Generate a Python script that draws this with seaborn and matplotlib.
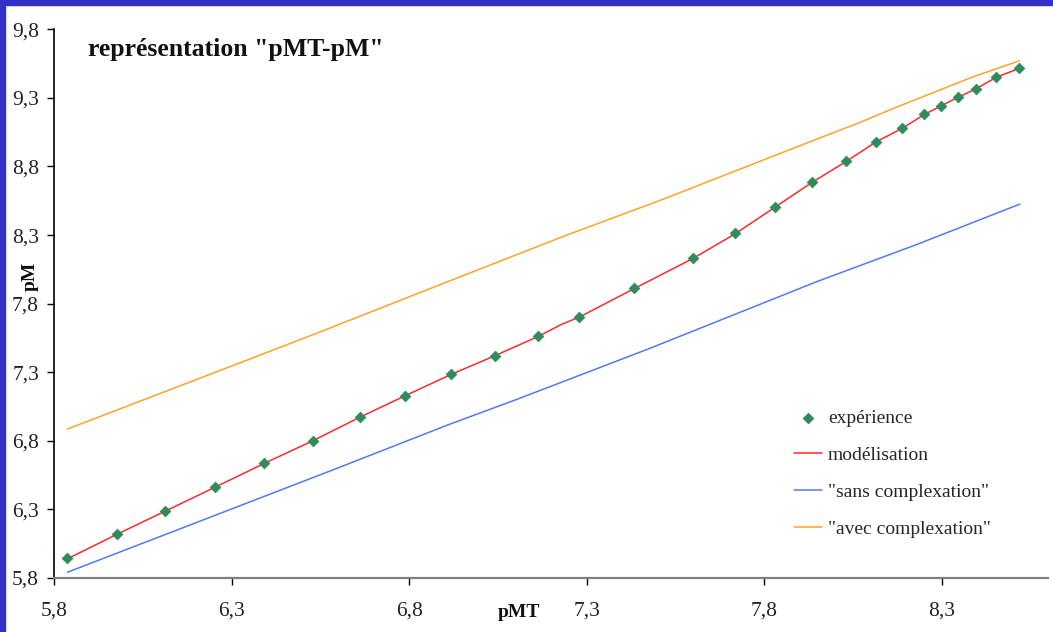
import matplotlib
matplotlib.use("Agg")
import matplotlib.pyplot as plt
import seaborn as sns
import pandas as pd
from matplotlib.patches import Rectangle
from matplotlib.ticker import FixedLocator, FuncFormatter

# ---- data ----
exp_x = [5.837, 5.976, 6.113, 6.253, 6.392, 6.528, 6.661, 6.788, 6.918, 7.043,
         7.164, 7.278, 7.434, 7.600, 7.719, 7.830, 7.935, 8.032, 8.116, 8.189,
         8.251, 8.299, 8.346, 8.396, 8.454, 8.519]
exp_y = [5.944, 6.121, 6.288, 6.461, 6.636, 6.799, 6.973, 7.127, 7.285, 7.420,
         7.564, 7.700, 7.912, 8.130, 8.312, 8.504, 8.686, 8.837, 8.982, 9.078,
         9.180, 9.242, 9.306, 9.364, 9.452, 9.515]

mod_x = [5.837, 5.976, 6.113, 6.253, 6.392, 6.528, 6.661, 6.788, 6.918, 7.043,
         7.164, 7.230, 7.278, 7.434, 7.600, 7.719, 7.830, 7.935, 8.032, 8.116,
         8.189, 8.251, 8.299, 8.346, 8.396, 8.454, 8.519]
mod_y = [5.940, 6.118, 6.288, 6.462, 6.636, 6.800, 6.972, 7.128, 7.284, 7.422,
         7.562, 7.650, 7.700, 7.910, 8.130, 8.310, 8.502, 8.684, 8.838, 8.980,
         9.078, 9.178, 9.242, 9.304, 9.365, 9.450, 9.515]

sans_x = [5.837, 6.577, 6.915, 7.098, 7.478, 7.948, 8.230, 8.521]
sans_y = [5.842, 6.580, 6.922, 7.097, 7.474, 7.960, 8.231, 8.526]

avec_x = [5.837, 6.258, 6.539, 6.915, 7.244, 7.509, 7.929, 8.070, 8.164, 8.389, 8.519]
avec_y = [6.886, 7.304, 7.584, 7.967, 8.300, 8.555, 8.980, 9.121, 9.223, 9.454, 9.570]

x_ticks = [5.8, 6.3, 6.8, 7.3, 7.8, 8.3]
y_ticks = [5.8, 6.3, 6.8, 7.3, 7.8, 8.3, 8.8, 9.3, 9.8]

title = 'représentation "pMT-pM"'
x_label = "pMT"
y_label = "pM"
labels = ["expérience", "modélisation", '"sans complexation"', '"avec complexation"']

# ---- figure ----
sns.set_theme(style="white")
plt.rcParams["font.family"] = ["Liberation Serif", "DejaVu Serif"]

W, H = 1053, 632
AX_L, AX_R, AX_T, AX_B = 54.3, 1048, 29.3, 578
AW, AH = AX_R - AX_L, AX_B - AX_T
fig = plt.figure(figsize=(W / 100, H / 100), dpi=100)
fig.patch.set_facecolor("white")
ax = fig.add_axes([AX_L / W, 1 - AX_B / H, AW / W, AH / H])
ax.set_facecolor("white")

# blue frame (top and left)
fig.patches.append(Rectangle((0, 1 - 5 / H), 1, 5 / H, transform=fig.transFigure,
                             color="#3232C8", zorder=10))
fig.patches.append(Rectangle((0, 0), 5 / W, 1, transform=fig.transFigure,
                             color="#3232C8", zorder=10))

df_exp = pd.DataFrame({"x": exp_x, "y": exp_y})
df_mod = pd.DataFrame({"x": mod_x, "y": mod_y})
df_sans = pd.DataFrame({"x": sans_x, "y": sans_y})
df_avec = pd.DataFrame({"x": avec_x, "y": avec_y})

sns.lineplot(data=df_mod, x="x", y="y", ax=ax, sort=False, color="#FF2A2A",
             linewidth=1.1, label=labels[1], zorder=3)
sns.lineplot(data=df_sans, x="x", y="y", ax=ax, sort=False, color="#4F7CF5",
             linewidth=1.1, label=labels[2], zorder=2)
sns.lineplot(data=df_avec, x="x", y="y", ax=ax, sort=False, color="#FFA424",
             linewidth=1.1, label=labels[3], zorder=2)
sns.scatterplot(data=df_exp, x="x", y="y", ax=ax, marker="D", s=30,
                color="#2E8B5A", edgecolor="#2E8B5A", linewidth=0.5,
                label=labels[0], zorder=4)

ax.set_xlim(5.8, 8.6)
ax.set_ylim(5.8, 9.8)
ax.xaxis.set_major_locator(FixedLocator(x_ticks))
ax.yaxis.set_major_locator(FixedLocator(y_ticks))
fmt = FuncFormatter(lambda v, p: f"{v:.1f}".replace(".", ","))
ax.xaxis.set_major_formatter(fmt)
ax.yaxis.set_major_formatter(fmt)
ax.tick_params(axis="both", direction="out", length=5, width=1, colors="black",
               labelsize=15.5, labelcolor="#222222")
ax.tick_params(axis="x", pad=12, bottom=True)
ax.tick_params(axis="y", pad=6, left=True)

for s in ["top", "right"]:
    ax.spines[s].set_visible(False)
ax.spines["left"].set_color("black")
ax.spines["left"].set_linewidth(1.2)
ax.spines["bottom"].set_color("#808080")
ax.spines["bottom"].set_linewidth(1.6)

ax.set_xlabel(x_label, fontsize=14, fontweight="bold", color="#111111")
ax.set_ylabel(y_label, fontsize=14, fontweight="bold", color="#111111")
ax.xaxis.set_label_coords((519 - AX_L) / AW, (AX_B - 604) / AH)
ax.yaxis.set_label_coords((39 - AX_L) / AW, (AX_B - 276) / AH)

fig.text(88 / W, 1 - 56 / H, title, fontsize=18.5, fontweight="bold",
         color="#111111", ha="left", va="baseline")

handles, labs = ax.get_legend_handles_labels()
order = [labs.index(l) for l in labels]
leg = ax.legend([handles[i] for i in order], [labs[i] for i in order],
                loc="upper left", bbox_to_anchor=(794 / W, 1 - 409 / H),
                bbox_transform=fig.transFigure, frameon=False, fontsize=14,
                labelspacing=1.0, handlelength=1.45, handletextpad=0.3,
                borderpad=0, borderaxespad=0)

fig.savefig("out.png", dpi=100, facecolor="white")
